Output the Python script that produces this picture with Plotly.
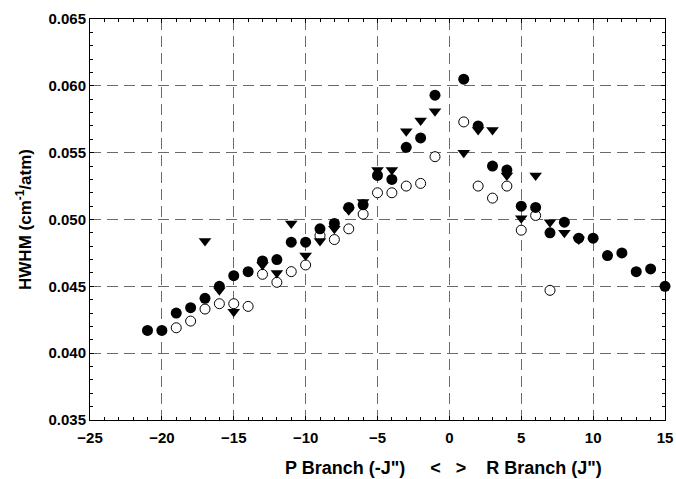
import plotly.graph_objects as go

# Filled circles
filled_J = [-21, -20, -19, -18, -17, -16, -15, -14, -13, -12, -11, -10, -9, -8, -7, -6, -5, -4, -3, -2, -1,
            1, 2, 3, 4, 5, 6, 7, 8, 9, 10, 11, 12, 13, 14, 15]
filled_v = [0.0417, 0.0417, 0.0430, 0.0434, 0.0441, 0.0450, 0.0458, 0.0461, 0.0469, 0.0470, 0.0483, 0.0483,
            0.0493, 0.0497, 0.0509, 0.0511, 0.0533, 0.0530, 0.0554, 0.0561, 0.0593,
            0.0605, 0.0570, 0.0540, 0.0537, 0.0510, 0.0509, 0.0490, 0.0498, 0.0486, 0.0486, 0.0473,
            0.0475, 0.0461, 0.0463, 0.0450]

# Open circles
open_J = [-19, -18, -17, -16, -15, -14, -13, -12, -11, -10, -9, -8, -7, -6, -5, -4, -3, -2, -1,
          1, 2, 3, 4, 5, 6, 7]
open_v = [0.0419, 0.0424, 0.0433, 0.0437, 0.0437, 0.0435, 0.0459, 0.0453, 0.0461, 0.0466, 0.0488, 0.0485,
          0.0493, 0.0504, 0.0520, 0.0520, 0.0525, 0.0527, 0.0547,
          0.0573, 0.0525, 0.0516, 0.0525, 0.0492, 0.0503, 0.0447]

# Down triangles
tri_J = [-17, -16, -15, -13, -12, -11, -10, -9, -8, -7, -6, -5, -4, -3, -2, -1,
         1, 2, 3, 4, 5, 6, 7, 8, 9]
tri_v = [0.0484, 0.0447, 0.0431, 0.0466, 0.0460, 0.0497, 0.0473, 0.0484, 0.0493, 0.0507, 0.0513, 0.0537,
         0.0537, 0.0566, 0.0574, 0.0581,
         0.0550, 0.0567, 0.0567, 0.0533, 0.0501, 0.0533, 0.0498, 0.0490, 0.0485]

x_ticks = [-25, -20, -15, -10, -5, 0, 5, 10, 15]
y_ticks = [0.035, 0.040, 0.045, 0.050, 0.055, 0.060, 0.065]

FONT = "Liberation Sans, Arial, sans-serif"

fig = go.Figure()
fig.add_trace(go.Scatter(x=open_J, y=open_v, mode="markers",
                         marker=dict(symbol="circle", size=10, color="white",
                                     line=dict(color="black", width=1)),
                         showlegend=False, cliponaxis=False))
fig.add_trace(go.Scatter(x=tri_J, y=tri_v, mode="markers",
                         marker=dict(symbol="triangle-down", size=11, color="black",
                                     line=dict(width=0)),
                         showlegend=False, cliponaxis=False))
fig.add_trace(go.Scatter(x=filled_J, y=filled_v, mode="markers",
                         marker=dict(symbol="circle", size=11, color="black",
                                     line=dict(width=0)),
                         showlegend=False, cliponaxis=False))

axis_common = dict(
    showline=True, linecolor="black", linewidth=1, mirror="ticks",
    ticks="inside", ticklen=4, tickcolor="black", tickwidth=1,
    showgrid=True, gridcolor="#6a6a6a", gridwidth=1.2, griddash="11px,6px",
    zeroline=False, automargin=False,
    tickfont=dict(family=FONT, size=15, color="black", weight="bold"),
)

fig.update_xaxes(range=[-25, 15], tickvals=x_ticks, ticklabelstandoff=4,
                 minor=dict(dtick=1, ticks="inside", ticklen=3, tickcolor="black", showgrid=False),
                 **axis_common)
fig.update_yaxes(range=[0.035, 0.065], tickvals=y_ticks, tickformat=".3f",
                 minor=dict(dtick=0.001, ticks="inside", ticklen=3, tickcolor="black", showgrid=False),
                 title=dict(text="HWHM (cm<sup>-1</sup>/atm)",
                            font=dict(family=FONT, size=17, color="black", weight="bold"),
                            standoff=12),
                 **axis_common)

SP = "&nbsp;"
fig.add_annotation(
    x=0, xref="x", xshift=-6, y=-0.12, yref="paper", yanchor="middle",
    text="P Branch (-J\")" + SP * 5 + "<" + SP * 3 + ">" + SP * 4 + "R Branch (J\")",
    showarrow=False,
    font=dict(family=FONT, size=18, color="black", weight="bold"),
)

fig.update_layout(
    width=676, height=479,
    margin=dict(l=90, r=11, t=19, b=59),
    plot_bgcolor="white", paper_bgcolor="white",
    font=dict(family=FONT),
)

fig.write_html("out.html", config={"displayModeBar": False},
               post_script="document.body.style.margin='0';document.body.style.overflow='hidden';")
